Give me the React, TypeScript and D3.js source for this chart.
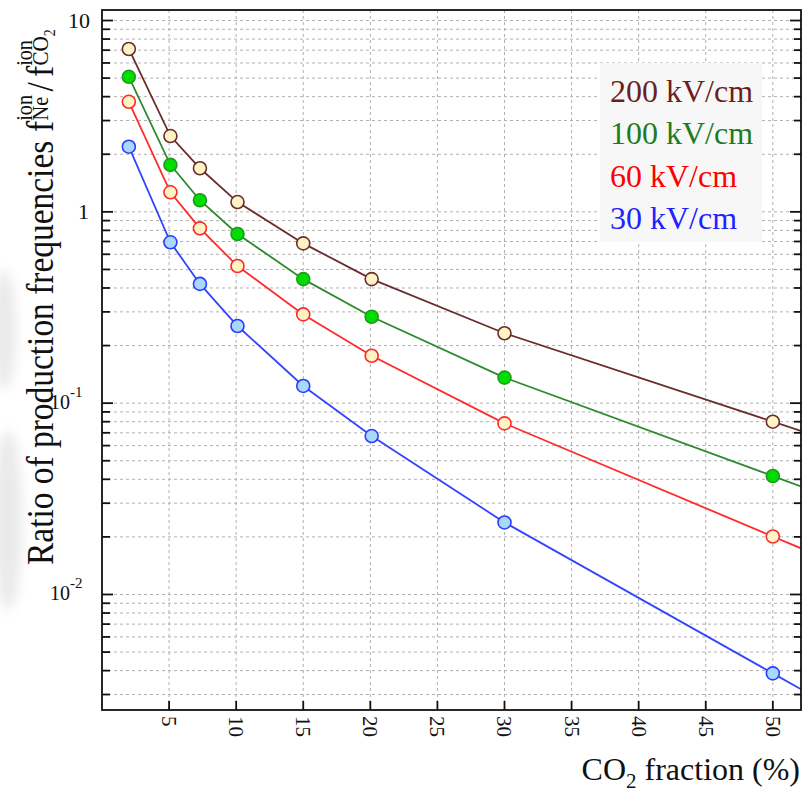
import React from "react";
import * as d3 from "d3";

// CO2 fraction (%) and the ion production frequency ratio f_Ne / f_CO2
const fractions = [2, 5.1, 7.3, 10.1, 15, 20.1, 30, 50];
const ratio200 = [7.1, 2.49, 1.69, 1.125, 0.684, 0.445, 0.232, 0.08];
const ratio100 = [5.08, 1.76, 1.15, 0.766, 0.445, 0.283, 0.136, 0.0416];
const ratio60 = [3.76, 1.265, 0.82, 0.521, 0.291, 0.177, 0.0784, 0.0201];
const ratio30 = [2.19, 0.693, 0.42, 0.253, 0.123, 0.0673, 0.0238, 0.00387];

const fieldLabels = ["200 kV/cm", "100 kV/cm", "60 kV/cm", "30 kV/cm"];
const xTickValues = [5, 10, 15, 20, 25, 30, 35, 40, 45, 50];
const yMajorTicks = [10, 1, 0.1, 0.01];

const series = [
  { name: fieldLabels[0], values: ratio200, line: "#6b2c2c", fill: "#fdf3c4", stroke: "#6b2c2c", text: "#6b1f1f" },
  { name: fieldLabels[1], values: ratio100, line: "#2f8a2f", fill: "#00dd00", stroke: "#1f9a1f", text: "#1e7b1e" },
  { name: fieldLabels[2], values: ratio60, line: "#ff2a2a", fill: "#fdf3c4", stroke: "#ff2a2a", text: "#ff0000" },
  { name: fieldLabels[3], values: ratio30, line: "#3344ff", fill: "#a9d8ff", stroke: "#2a3cff", text: "#2222ff" },
];

const serif = "'Liberation Serif', 'Times New Roman', serif";

export default function App() {
  const w = 802,
    h = 795,
    left = 102,
    right = 801,
    top = 10,
    bottom = 710;

  const x = d3.scaleLinear().domain([0, 52.1]).range([left, right]);
  const y = d3.scaleLog().domain([0.00249, 11.35]).range([bottom, top]);

  const gridY = y.ticks();

  const line = d3
    .line<[number, number]>()
    .x(d => x(d[0]))
    .y(d => y(d[1]));

  // curves run on to the frame edge past the last point
  const paths = series.map(s => {
    const pts: [number, number][] = fractions.map((f, i) => [f, s.values[i]]);
    const n = pts.length;
    const slope = (Math.log10(pts[n - 1][1]) - Math.log10(pts[n - 2][1])) / (pts[n - 1][0] - pts[n - 2][0]);
    const xEnd = x.domain()[1];
    pts.push([xEnd, pts[n - 1][1] * Math.pow(10, slope * (xEnd - pts[n - 1][0]))]);
    return line(pts);
  });

  return (
    <div style={{ position: "absolute", left: 0, top: 0 }}>
      <svg width={w} height={h} style={{ display: "block", background: "#fff" }}>
        <defs>
          <clipPath id="plot">
            <rect x={left} y={top} width={right - left} height={bottom - top} />
          </clipPath>
          <filter id="soft" x="-1" y="-1" width="3" height="3">
            <feGaussianBlur stdDeviation="6" />
          </filter>
        </defs>

        {/* faint scan smudge along the left edge */}
        <g filter="url(#soft)" fill="#e4e4e4" opacity={0.8}>
          <ellipse cx={4} cy={330} rx={12} ry={60} />
          <ellipse cx={8} cy={520} rx={14} ry={90} />
        </g>

        {/* grid */}
        <g stroke="#b0b0b0" strokeWidth={1} strokeDasharray="3,3">
          {gridY.map((d, i) => (
            <line key={"gy" + i} x1={left} x2={right} y1={y(d)} y2={y(d)} />
          ))}
          {xTickValues.map((d, i) => (
            <line key={"gx" + i} x1={x(d)} x2={x(d)} y1={top} y2={bottom} />
          ))}
        </g>

        {/* legend */}
        <rect x={600} y={63} width={162} height={179} fill="#f7f7f7" />
        {series.map((s, i) => (
          <text
            key={"lg" + i}
            x={610}
            y={102 + i * 42.3}
            fontSize={32}
            fontFamily={serif}
            fill={s.text}
          >
            {s.name}
          </text>
        ))}

        {/* curves */}
        <g clipPath="url(#plot)" fill="none" strokeWidth={1.8}>
          {paths.map((p, i) => (
            <path key={"p" + i} d={p || ""} stroke={series[i].line} />
          ))}
        </g>
        {series.map((s, i) => (
          <g key={"m" + i}>
            {s.values.map((v, j) => (
              <circle
                key={j}
                cx={x(fractions[j])}
                cy={y(v)}
                r={6.5}
                fill={s.fill}
                stroke={s.stroke}
                strokeWidth={1.6}
              />
            ))}
          </g>
        ))}

        {/* frame and ticks */}
        <g stroke="#111" strokeWidth={1.8}>
          <rect x={left} y={top} width={right - left} height={bottom - top} fill="none" />
          {gridY.map((d, i) => {
            const major = yMajorTicks.indexOf(d) >= 0;
            return (
              <g key={"ty" + i}>
                <line x1={left} x2={left + (major ? 11 : 8)} y1={y(d)} y2={y(d)} />
                <line x1={right} x2={right - (major ? 11 : 7)} y1={y(d)} y2={y(d)} />
              </g>
            );
          })}
          {xTickValues.map((d, i) => (
            <line key={"tx" + i} x1={x(d)} x2={x(d)} y1={bottom} y2={bottom - 9} />
          ))}
        </g>

        {/* y tick labels */}
        <g fontFamily={serif} fill="#111">
          <text x={90} y={y(10) + 7} fontSize={22} textAnchor="end">10</text>
          <text x={89} y={y(1) + 7} fontSize={22} textAnchor="end">1</text>
          <text x={50} y={y(0.1) + 6} fontSize={20}>
            10<tspan dy={-12} fontSize={15}>-1</tspan>
          </text>
          <text x={50} y={y(0.01) + 6} fontSize={20}>
            10<tspan dy={-12} fontSize={15}>-2</tspan>
          </text>
        </g>

        {/* x tick labels */}
        <g fontFamily={serif} fill="#111" fontSize={21}>
          {xTickValues.map((d, i) => (
            <text
              key={"xl" + i}
              transform={`translate(${x(d)},${bottom + 6}) rotate(90)`}
              dominantBaseline="central"
            >
              {d}
            </text>
          ))}
        </g>

        {/* axis titles */}
        <text x={800} y={780} fontFamily={serif} fontSize={32} textAnchor="end" fill="#111">
          CO<tspan dy={8} fontSize={21}>2</tspan>
          <tspan dy={-8}> fraction (%)</tspan>
        </text>
        <text
          transform="translate(53,565) rotate(-90) scale(0.88,1)"
          fontFamily={serif}
          fontSize={38}
          fill="#111"
        >
          Ratio of production frequencies
          <tspan dx={10}>f</tspan>
          <tspan dy={-21} fontSize={23}>ion</tspan>
          <tspan dx={-29} dy={16} fontSize={23}>Ne</tspan>
          <tspan dx={6} dy={5}>/</tspan>
          <tspan dx={6}>f</tspan>
          <tspan dy={-21} fontSize={23}>ion</tspan>
          <tspan dx={-29} dy={16} fontSize={24}>CO</tspan>
          <tspan dy={7} fontSize={16}>2</tspan>
        </text>
      </svg>
    </div>
  );
}
